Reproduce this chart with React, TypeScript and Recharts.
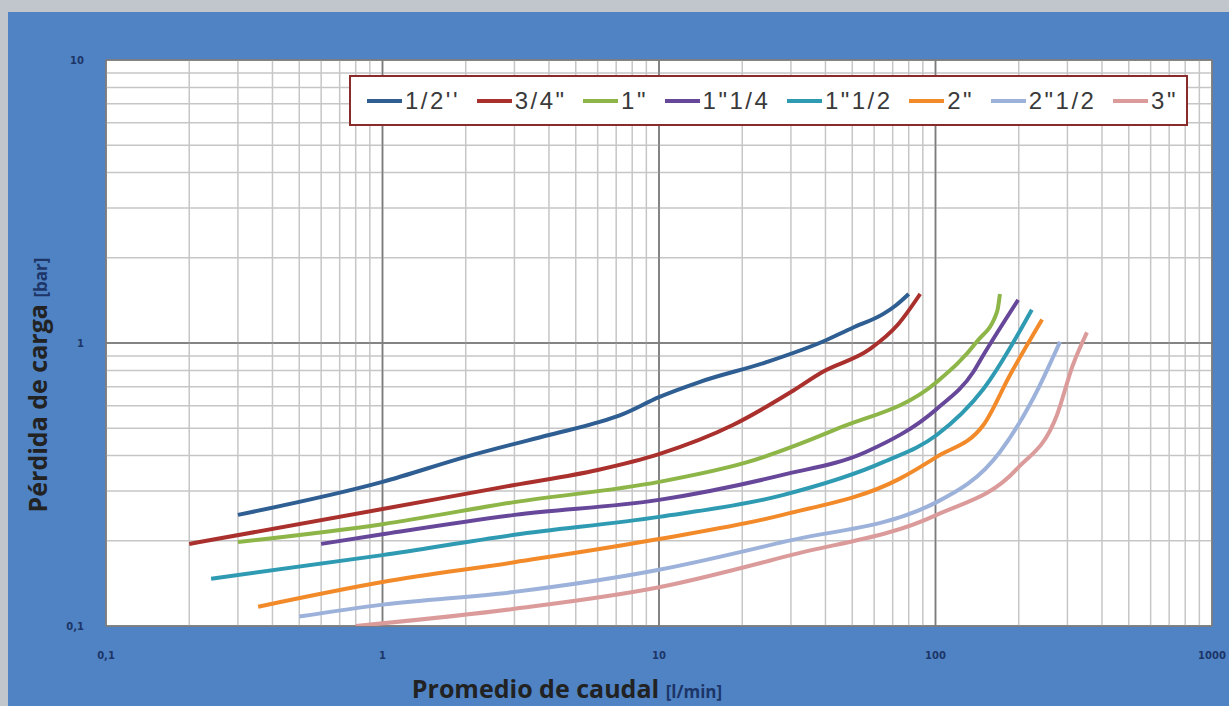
import { LineChart, Line, XAxis, YAxis, CartesianGrid, ReferenceLine } from 'recharts';

// caudal [l/min] vs pérdida de carga [bar]
const s12 = [
  { x: 0.3, y: 0.247 }, { x: 1, y: 0.323 }, { x: 2, y: 0.396 }, { x: 4, y: 0.473 },
  { x: 6.1, y: 0.526 }, { x: 7.4, y: 0.561 }, { x: 10, y: 0.644 }, { x: 14, y: 0.728 },
  { x: 24.6, y: 0.857 }, { x: 39, y: 1.01 }, { x: 50, y: 1.13 }, { x: 65, y: 1.27 },
  { x: 72, y: 1.36 }, { x: 80, y: 1.49 },
];
const s34 = [
  { x: 0.2, y: 0.195 }, { x: 1, y: 0.259 }, { x: 3, y: 0.315 }, { x: 6, y: 0.356 },
  { x: 10, y: 0.405 }, { x: 18.5, y: 0.513 }, { x: 30, y: 0.671 }, { x: 39, y: 0.79 },
  { x: 58, y: 0.953 }, { x: 73, y: 1.16 }, { x: 88, y: 1.49 },
];
const s1 = [
  { x: 0.3, y: 0.198 }, { x: 1, y: 0.229 }, { x: 3, y: 0.274 }, { x: 10, y: 0.323 },
  { x: 21, y: 0.38 }, { x: 44, y: 0.497 }, { x: 101, y: 0.728 }, { x: 141, y: 1.01 },
  { x: 167, y: 1.29 }, { x: 171, y: 1.49 },
];
const s114 = [
  { x: 0.6, y: 0.195 }, { x: 1, y: 0.211 }, { x: 3, y: 0.247 }, { x: 10, y: 0.279 },
  { x: 28, y: 0.342 }, { x: 56, y: 0.412 }, { x: 101, y: 0.585 }, { x: 137, y: 0.79 },
  { x: 149, y: 0.907 }, { x: 199, y: 1.42 },
];
const s112 = [
  { x: 0.24, y: 0.147 }, { x: 1, y: 0.178 }, { x: 3, y: 0.21 }, { x: 10, y: 0.243 },
  { x: 28, y: 0.29 }, { x: 65, y: 0.38 }, { x: 101, y: 0.473 }, { x: 149, y: 0.688 },
  { x: 223, y: 1.31 },
];
const s2 = [
  { x: 0.355, y: 0.117 }, { x: 1, y: 0.143 }, { x: 3, y: 0.168 }, { x: 10, y: 0.203 },
  { x: 28, y: 0.247 }, { x: 74, y: 0.331 }, { x: 101, y: 0.396 }, { x: 149, y: 0.513 },
  { x: 186, y: 0.771 }, { x: 243, y: 1.21 },
];
const s212 = [
  { x: 0.5, y: 0.108 }, { x: 1, y: 0.119 }, { x: 3, y: 0.132 }, { x: 10, y: 0.158 },
  { x: 28, y: 0.198 }, { x: 101, y: 0.274 }, { x: 171, y: 0.412 }, { x: 225, y: 0.634 },
  { x: 282, y: 1.01 },
];
const s3 = [
  { x: 0.8, y: 0.1 }, { x: 3, y: 0.115 }, { x: 10, y: 0.137 }, { x: 30, y: 0.178 },
  { x: 101, y: 0.247 }, { x: 197, y: 0.359 }, { x: 275, y: 0.557 }, { x: 314, y: 0.836 },
  { x: 353, y: 1.09 },
];

const series = [
  { name: "1/2''", data: s12, color: '#2f5e92' },
  { name: '3/4"', data: s34, color: '#a9302c' },
  { name: '1"', data: s1, color: '#8db548' },
  { name: '1"1/4', data: s114, color: '#67479a' },
  { name: '1"1/2', data: s112, color: '#2f9bb3' },
  { name: '2"', data: s2, color: '#f28a2a' },
  { name: '2"1/2', data: s212, color: '#9db2da' },
  { name: '3"', data: s3, color: '#dc9b9b' },
];

const xTicks = [0.1, 1, 10, 100, 1000];
const yTicks = [0.1, 1, 10];
const xMinor = [0.2, 0.3, 0.4, 0.5, 0.6, 0.7, 0.8, 0.9, 2, 3, 4, 5, 6, 7, 8, 9,
  20, 30, 40, 50, 60, 70, 80, 90, 200, 300, 400, 500, 600, 700, 800, 900];
const yMinor = [0.2, 0.3, 0.4, 0.5, 0.6, 0.7, 0.8, 0.9, 2, 3, 4, 5, 6, 7, 8, 9];

const fmt = (v: number) => String(v).replace('.', ',');
const titleFont = "'Open Sans', Lato, sans-serif";

function LegendBox() {
  return (
    <div style={{
      position: 'absolute', left: 349, top: 75, width: 839, height: 51, boxSizing: 'border-box',
      display: 'flex', alignItems: 'center', justifyContent: 'space-between', background: '#fff',
      border: '2px solid #8a2b2b', paddingLeft: 16, paddingRight: 8,
      fontFamily: '"Liberation Sans", Arial, sans-serif', fontSize: 24, letterSpacing: 2.5, color: '#3a3a3a',
    }}>
      {series.map((s) => (
        <div key={s.name} style={{ display: 'flex', alignItems: 'center' }}>
          <span style={{ display: 'inline-block', width: 35, height: 4, background: s.color, marginRight: 3 }} />
          <span>{s.name}</span>
        </div>
      ))}
    </div>
  );
}

export default function App() {
  return (
    <div style={{ position: 'relative', width: 1229, height: 706, background: '#c0c6cc', overflow: 'hidden' }}>
      <style>{'body{margin:0}'}</style>
      <div style={{ position: 'absolute', left: 8, top: 12, width: 1221, height: 694, background: '#4f83c4' }} />
      <div style={{ position: 'absolute', left: 0, top: 0 }}>
        <LineChart width={1229} height={706} margin={{ top: 60, right: 17, left: 66, bottom: 40 }}>
          <CartesianGrid fill="#fff" stroke="#7c7c7c" strokeWidth={1.5} />
          <XAxis
            dataKey="x" type="number" scale="log" domain={[0.1, 1000]} ticks={xTicks}
            allowDataOverflow axisLine={false} tickLine={false} height={40} tickMargin={20}
            tickFormatter={fmt}
            tick={{ fill: '#1d3567', fontSize: 10, fontWeight: 700, fontFamily: 'DejaVu Sans' }}
            label={{
              content: () => (
                <text x={567} y={698} textAnchor="middle" fontFamily={titleFont} fontWeight={700}>
                  <tspan fontSize={25} fill="#222">Promedio de caudal </tspan>
                  <tspan fontSize={17} fill="#1d3567">[l/min]</tspan>
                </text>
              ),
            }}
          />
          <YAxis
            dataKey="y" type="number" scale="log" domain={[0.1, 10]} ticks={yTicks}
            allowDataOverflow axisLine={false} tickLine={false} width={40} tickMargin={16}
            tickFormatter={fmt}
            tick={{ fill: '#1d3567', fontSize: 10, fontWeight: 700, fontFamily: 'DejaVu Sans' }}
            label={{
              content: () => (
                <text x={47} y={385} textAnchor="middle" transform="rotate(-90 47 385)"
                  fontFamily={titleFont} fontWeight={700}>
                  <tspan fontSize={25} fill="#222">Pérdida de carga </tspan>
                  <tspan fontSize={17} fill="#1d3567">[bar]</tspan>
                </text>
              ),
            }}
          />
          {xMinor.map((v) => (
            <ReferenceLine key={'x' + v} x={v} stroke="#c6c6c6" strokeWidth={1.5} />
          ))}
          {yMinor.map((v) => (
            <ReferenceLine key={'y' + v} y={v} stroke="#c6c6c6" strokeWidth={1.5} />
          ))}
          {xTicks.map((v) => (
            <ReferenceLine key={'X' + v} x={v} stroke="#7c7c7c" strokeWidth={1.5} />
          ))}
          {yTicks.map((v) => (
            <ReferenceLine key={'Y' + v} y={v} stroke="#7c7c7c" strokeWidth={1.5} />
          ))}
          {series.map((s) => (
            <Line
              key={s.name} data={s.data} dataKey="y" name={s.name} type="monotone"
              stroke={s.color} strokeWidth={4} dot={false} isAnimationActive={false}
            />
          ))}
        </LineChart>
      </div>
      <LegendBox />
    </div>
  );
}
